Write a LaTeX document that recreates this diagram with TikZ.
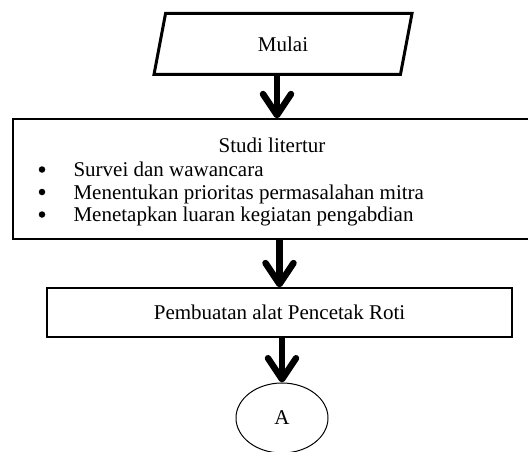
\documentclass[tikz,border=0pt]{standalone}
\usepackage{fontspec}
\setmainfont{Liberation Serif}
\usetikzlibrary{shapes,arrows.meta}

\begin{document}
\begin{tikzpicture} [x=1pt,y=-1pt,
  every node/.style={font=\fontsize{21}{24}\selectfont},
  kotak/.style= {draw,rectangle,line width=1.3pt,inner sep=0},
  panah/.style= {line width=6.5pt,-{Straight Barb[length=21pt,width=28pt,round]},
    preaction={draw=gray!60,transform canvas={shift={(1.5pt,-1.5pt)}}}}]
\clip (0,0) rectangle (528,452);

\node[draw,shape=trapezium,trapezium left angle=52,trapezium right angle=128,
  trapezium stretches body,minimum width=258,minimum height=61,line width=3pt,inner sep=0]
  (mulai) at (283,44) {Mulai};
\node[kotak,minimum width=522,minimum height=120] (studi) at (274,179) {};
\node[anchor=base] (judul) at (272,152) {Studi litertur};
\foreach \t [count=\i] in {Survei dan wawancara,Menentukan prioritas permasalahan mitra,Menetapkan luaran kegiatan pengabdian}{%
  \node[anchor=base west] (poin\i) at (70,{154+\i*22.5}) {\t};
  \node[circle,fill,inner sep=0,minimum size=6.5pt] (titik\i) at (42,{147+\i*22.5}) {};}
\node[kotak,minimum width=465,minimum height=49] (alat) at (279.5,312.5) {Pembuatan alat Pencetak Roti};
\node[draw,ellipse,line width=1pt,minimum width=92,minimum height=70,inner sep=0] (A) at (282,418) {A};

\draw[panah] ([xshift=-6pt]mulai.south) -- ([xshift=-6pt]mulai.south |- studi.north);
\draw[panah] (alat.north |- studi.south) -- (alat.north);
\draw[panah] (A.north |- alat.south) -- (A.north);
\end{tikzpicture}
\end{document}
